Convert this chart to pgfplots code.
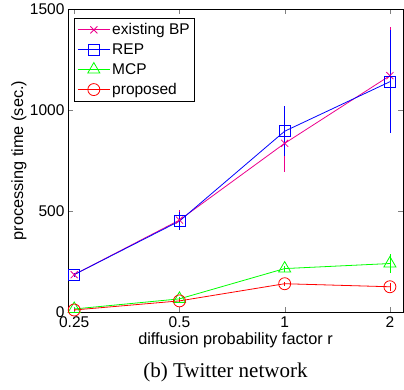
\documentclass[border=0pt]{standalone}
\usepackage{pgfplots}
\pgfplotsset{compat=1.18}
\usepackage{fontspec}
\setmainfont{Liberation Sans}
\newfontfamily\capfont{Liberation Serif}
\begin{document}
\begin{tikzpicture}
\begin{axis}[
  at={(0,0)}, anchor=south west,
  scale only axis, width=335pt, height=303pt,
  xmode=log, log basis x=2,
  xmin=0.24, xmax=2.18, ymin=0, ymax=1500,
  xtick={0.25,0.5,1,2}, xticklabels={0.25,0.5,1,2},
  ytick={0,500,1000,1500}, yticklabels={0,500,1000,1500},
  tick align=inside, tick pos=both,
  major tick length=5pt,
  minor tick num=0,
  /pgf/number format/assume math mode=true,
  tick label style={font=\fontsize{15.5}{17}\selectfont},
  xticklabel style={yshift=-1pt},
  label style={font=\fontsize{16.3}{18}\selectfont},
  xlabel={diffusion probability factor r},
  ylabel={processing time (sec.)},
  xlabel style={yshift=2pt},
  ylabel style={yshift=-3.5pt},
  axis line style={line width=0.8pt},
  clip=false,
  legend style={at={(rel axis cs:0.018,0.97)}, anchor=north west,
    font=\fontsize{15.5}{17}\selectfont, draw=black, line width=0.8pt,
    row sep=3.5pt, inner sep=3pt},
  legend cell align=left,
  legend image code/.code={\draw[mark repeat=2,mark phase=2] plot coordinates {(0pt,0pt)(16pt,0pt)(32pt,0pt)};},
  every axis plot/.append style={line width=0.8pt},
  error bars/y dir=both, error bars/y explicit,
  error bars/error mark=none,
  error bars/error bar style={line width=0.8pt},
]
\addplot[color=magenta, mark=x, mark size=5pt] coordinates {
 (0.25,185) +- (0,10) (0.5,455) +- (0,50) (1,835) +- (0,140) (2,1170) +- (0,240)};
\addlegendentry{existing BP}
\addplot[color=blue, mark=square, mark size=5.5pt] coordinates {
 (0.25,185) +- (0,10) (0.5,450) +- (0,45) (1,895) +- (0,125) (2,1140) +- (0,255)};
\addlegendentry{REP}
\addplot[color=green, mark=triangle, mark size=7pt] coordinates {
 (0.25,15) +- (0,5) (0.5,65) +- (0,10) (1,215) +- (0,15) (2,240) +- (0,45)};
\addlegendentry{MCP}
\addplot[color=red, mark=o, mark size=6pt] coordinates {
 (0.25,10) +- (0,5) (0.5,55) +- (0,10) (1,140) +- (0,10) (2,125) +- (0,20)};
\addlegendentry{proposed}
\node[font=\capfont\fontsize{21}{23}\selectfont] at (rel axis cs:0.47,-0.2) {(b) Twitter network};
\end{axis}
\pgfresetboundingbox
\useasboundingbox (-68pt,-77pt) rectangle (336pt,312pt);
\end{tikzpicture}
\end{document}
